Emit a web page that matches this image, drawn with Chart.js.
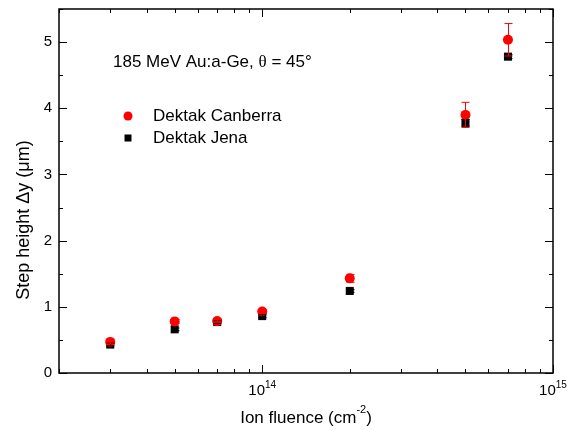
<!DOCTYPE html>
<html>
<head>
<meta charset="utf-8">
<script src="https://cdn.jsdelivr.net/npm/chart.js@4"></script>
<style>
  body { margin: 0; background: #fff; }
  canvas { display: block; }
</style>
</head>
<body>
<canvas id="stepChart" width="571" height="430"></canvas>
<script>
// fluence values (cm^-2) and step heights (um)
var fluence = [3e13, 5e13, 7e13, 1e14, 2e14, 5e14, 7e14];
var canberra = [0.47, 0.78, 0.785, 0.93, 1.43, 3.90, 5.035];
var canberraErr = [0.03, 0.03, 0.02, 0.03, 0.06, 0.19, 0.245];
var jena = [0.43, 0.66, 0.77, 0.86, 1.24, 3.78, 4.78];
var jenaErr = [0.02, 0.02, 0.02, 0.02, 0.02, 0.05, 0.03];

var yTicks = [0, 1, 2, 3, 4, 5];
var xDecades = [13, 14, 15];
var seriesNames = ['Dektak Canberra', 'Dektak Jena'];

function toPoints(xs, ys) {
    return xs.map(function (x, i) { return { x: x, y: ys[i] }; });
}

var FONT = '"Liberation Sans", Arial, sans-serif';

// frame, ticks, labels, legend and error bars all drawn here
var framePlugin = {
    id: 'originFrame',
    afterDatasetsDraw: function (chart) {
        var ctx = chart.ctx;
        var xs = chart.scales.x, ys = chart.scales.y;
        var a = chart.chartArea;
        ctx.save();

        // error bars
        var errs = [canberraErr, jenaErr];
        var vals = [canberra, jena];
        var cols = ['#ff0000', '#000000'];
        for (var s = 1; s >= 0; s--) {
            ctx.strokeStyle = cols[s];
            ctx.lineWidth = 1;
            fluence.forEach(function (f, i) {
                var px = Math.round(xs.getPixelForValue(f)) + 0.5;
                var top = ys.getPixelForValue(vals[s][i] + errs[s][i]);
                var bot = ys.getPixelForValue(vals[s][i] - errs[s][i]);
                ctx.beginPath();
                ctx.moveTo(px, top); ctx.lineTo(px, bot);
                ctx.moveTo(px - 4, top); ctx.lineTo(px + 4, top);
                ctx.moveTo(px - 4, bot); ctx.lineTo(px + 4, bot);
                ctx.stroke();
            });
        }

        // axes box
        ctx.strokeStyle = '#000';
        ctx.lineWidth = 1.5;
        ctx.strokeRect(a.left, a.top, a.right - a.left, a.bottom - a.top);

        ctx.lineWidth = 1;
        ctx.beginPath();
        // y ticks (major every 1, minor every 0.5)
        for (var v = 0; v <= ys.max + 1e-9; v += 0.5) {
            var py = Math.round(ys.getPixelForValue(v)) + 0.5;
            var len = (Math.abs(v - Math.round(v)) < 1e-6) ? 8 : 4;
            ctx.moveTo(a.left, py); ctx.lineTo(a.left + len, py);
            ctx.moveTo(a.right, py); ctx.lineTo(a.right - len, py);
        }
        // x ticks on log scale
        for (var d = 13; d <= 15; d++) {
            for (var k = 1; k <= 9; k++) {
                var val = k * Math.pow(10, d);
                if (val < xs.min || val > xs.max) continue;
                var px2 = Math.round(xs.getPixelForValue(val)) + 0.5;
                var l2 = k === 1 ? 8 : 4;
                ctx.moveTo(px2, a.bottom); ctx.lineTo(px2, a.bottom - l2);
                ctx.moveTo(px2, a.top); ctx.lineTo(px2, a.top + l2);
            }
        }
        ctx.stroke();

        // y tick labels
        ctx.fillStyle = '#000';
        ctx.font = '15px ' + FONT;
        ctx.textAlign = 'right';
        ctx.textBaseline = 'middle';
        yTicks.forEach(function (t) {
            ctx.fillText(String(t), a.left - 7, ys.getPixelForValue(t));
        });

        // x tick labels 10^n
        xDecades.forEach(function (n) {
            var val = Math.pow(10, n);
            if (val < xs.min || val > xs.max) return;
            var px = xs.getPixelForValue(val);
            ctx.font = '15px ' + FONT;
            var w1 = ctx.measureText('10').width;
            ctx.font = '10px ' + FONT;
            var w2 = ctx.measureText(String(n)).width;
            var x0 = px - (w1 + w2) / 2;
            ctx.textAlign = 'left';
            ctx.textBaseline = 'alphabetic';
            ctx.font = '15px ' + FONT;
            ctx.fillText('10', x0, 395);
            ctx.font = '10px ' + FONT;
            ctx.fillText(String(n), x0 + w1, 388);
        });

        // x title
        ctx.font = '17px ' + FONT;
        var t1 = 'Ion fluence (cm', t2 = '-2', t3 = ')';
        var wA = ctx.measureText(t1).width;
        ctx.font = '11px ' + FONT;
        var wB = ctx.measureText(t2).width;
        ctx.font = '17px ' + FONT;
        var wC = ctx.measureText(t3).width;
        var cx = (a.left + a.right) / 2;
        var sx = cx - (wA + wB + wC) / 2;
        ctx.fillText(t1, sx, 423);
        ctx.font = '11px ' + FONT;
        ctx.fillText(t2, sx + wA, 413);
        ctx.font = '17px ' + FONT;
        ctx.fillText(t3, sx + wA + wB, 423);

        // y title
        ctx.save();
        ctx.translate(29, 220);
        ctx.rotate(-Math.PI / 2);
        ctx.textAlign = 'center';
        ctx.textBaseline = 'alphabetic';
        ctx.font = '18px ' + FONT;
        ctx.fillText('Step height \u0394y (\u03bcm)', 0, 0);
        ctx.restore();

        // annotation
        ctx.textAlign = 'left';
        ctx.textBaseline = 'alphabetic';
        var ax = 113, ay = 67;
        ctx.font = '17px ' + FONT;
        var p1 = '185 MeV Au:a-Ge, ';
        ctx.fillText(p1, ax, ay);
        ax += ctx.measureText(p1).width;
        ctx.font = '17px "Liberation Serif", serif';
        ctx.fillText('\u03b8', ax, ay);
        ax += ctx.measureText('\u03b8').width;
        ctx.font = '17px ' + FONT;
        ctx.fillText(' = 45\u00b0', ax, ay);

        // legend
        ctx.fillStyle = '#ff0000';
        ctx.beginPath();
        ctx.arc(128, 116, 4.5, 0, Math.PI * 2);
        ctx.fill();
        ctx.fillStyle = '#000';
        ctx.fillRect(124.5, 134.5, 7, 7);
        ctx.font = '17px ' + FONT;
        ctx.textBaseline = 'middle';
        ctx.fillText(seriesNames[0], 153, 116);
        ctx.fillText(seriesNames[1], 153, 138);

        ctx.restore();
    }
};

var ctx = document.getElementById('stepChart').getContext('2d');
var stepChart = new Chart(ctx, {
    type: 'scatter',
    data: {
        datasets: [{
            label: seriesNames[0],
            data: toPoints(fluence, canberra),
            pointStyle: 'circle',
            pointRadius: 5,
            backgroundColor: '#ff0000',
            borderColor: '#ff0000',
            borderWidth: 0
        }, {
            label: seriesNames[1],
            data: toPoints(fluence, jena),
            pointStyle: 'rect',
            pointRadius: 5.7,
            backgroundColor: '#000000',
            borderColor: '#000000',
            borderWidth: 0
        }]
    },
    options: {
        responsive: false,
        animation: false,
        layout: { padding: { left: 59, right: 18, top: 9, bottom: 57 } },
        scales: {
            x: { type: 'logarithmic', min: 2e13, max: 1e15, display: false },
            y: { type: 'linear', min: 0, max: 5.5, display: false }
        },
        plugins: {
            legend: { display: false },
            tooltip: { enabled: false }
        }
    },
    plugins: [framePlugin]
});
</script>
</body>
</html>
